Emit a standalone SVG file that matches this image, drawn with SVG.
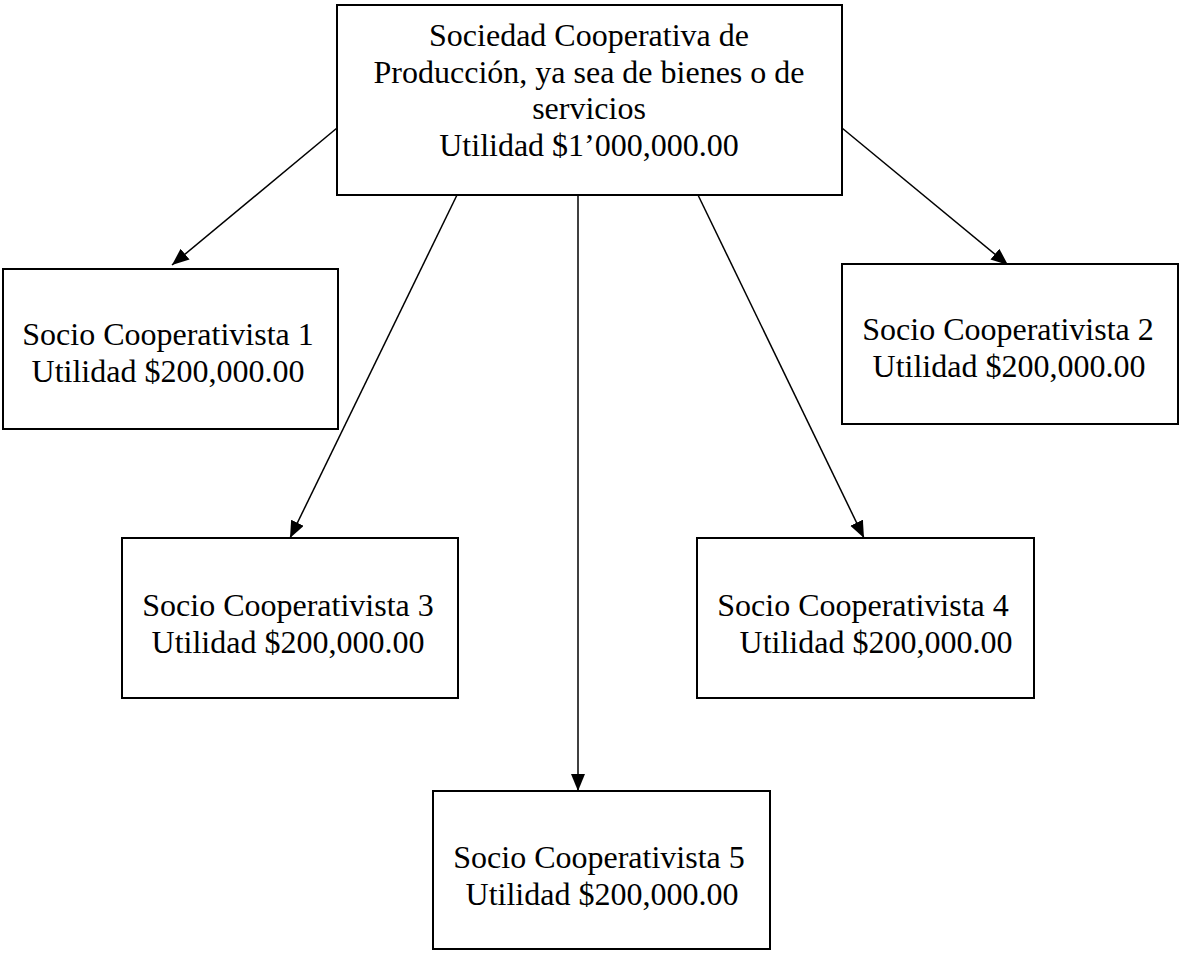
<svg xmlns="http://www.w3.org/2000/svg" width="1180" height="975" viewBox="0 0 1180 975">
<style>
  .box { fill: #ffffff; stroke: #000000; stroke-width: 2; }
  .t { font-family: "Liberation Serif", "Times New Roman", serif; font-size: 32px; fill: #000000; text-anchor: middle; }
  .c { stroke: #000000; stroke-width: 1.5; fill: none; marker-end: url(#ah); }
</style>
<defs>
  <marker id="ah" markerUnits="userSpaceOnUse" markerWidth="18" markerHeight="16" refX="17" refY="7" orient="auto">
    <path d="M0,0 L17,7 L0,14 Z" fill="#000000"/>
  </marker>
</defs>
<rect width="1180" height="975" fill="#ffffff"/>
<g id="connectors">
  <line class="c" x1="337" y1="128" x2="172" y2="265"/>
  <line class="c" x1="842" y1="128" x2="1008" y2="265"/>
  <line class="c" x1="457" y1="195" x2="290" y2="538"/>
  <line class="c" x1="578" y1="195" x2="578" y2="791"/>
  <line class="c" x1="698" y1="195" x2="864" y2="538"/>
</g>
<g id="node-sociedad">
  <rect class="box" x="337" y="5" width="505" height="190"/>
  <text class="t" x="589" y="46">Sociedad Cooperativa de</text>
  <text class="t" x="589" y="83">Producción, ya sea de bienes o de</text>
  <text class="t" x="589" y="119">servicios</text>
  <text class="t" x="589" y="156">Utilidad $1’000,000.00</text>
</g>
<g id="node-socio1">
  <rect class="box" x="3" y="269" width="335" height="160"/>
  <text class="t" x="168" y="345">Socio Cooperativista 1</text>
  <text class="t" x="168" y="382">Utilidad $200,000.00</text>
</g>
<g id="node-socio2">
  <rect class="box" x="842" y="264" width="336" height="160"/>
  <text class="t" x="1008" y="340">Socio Cooperativista 2</text>
  <text class="t" x="1009" y="377">Utilidad $200,000.00</text>
</g>
<g id="node-socio3">
  <rect class="box" x="122" y="538" width="336" height="160"/>
  <text class="t" x="288" y="616">Socio Cooperativista 3</text>
  <text class="t" x="288" y="653">Utilidad $200,000.00</text>
</g>
<g id="node-socio4">
  <rect class="box" x="697" y="538" width="337" height="160"/>
  <text class="t" x="863" y="616">Socio Cooperativista 4</text>
  <text class="t" x="876" y="653">Utilidad $200,000.00</text>
</g>
<g id="node-socio5">
  <rect class="box" x="433" y="791" width="337" height="158"/>
  <text class="t" x="599" y="868">Socio Cooperativista 5</text>
  <text class="t" x="602" y="905">Utilidad $200,000.00</text>
</g>
</svg>
